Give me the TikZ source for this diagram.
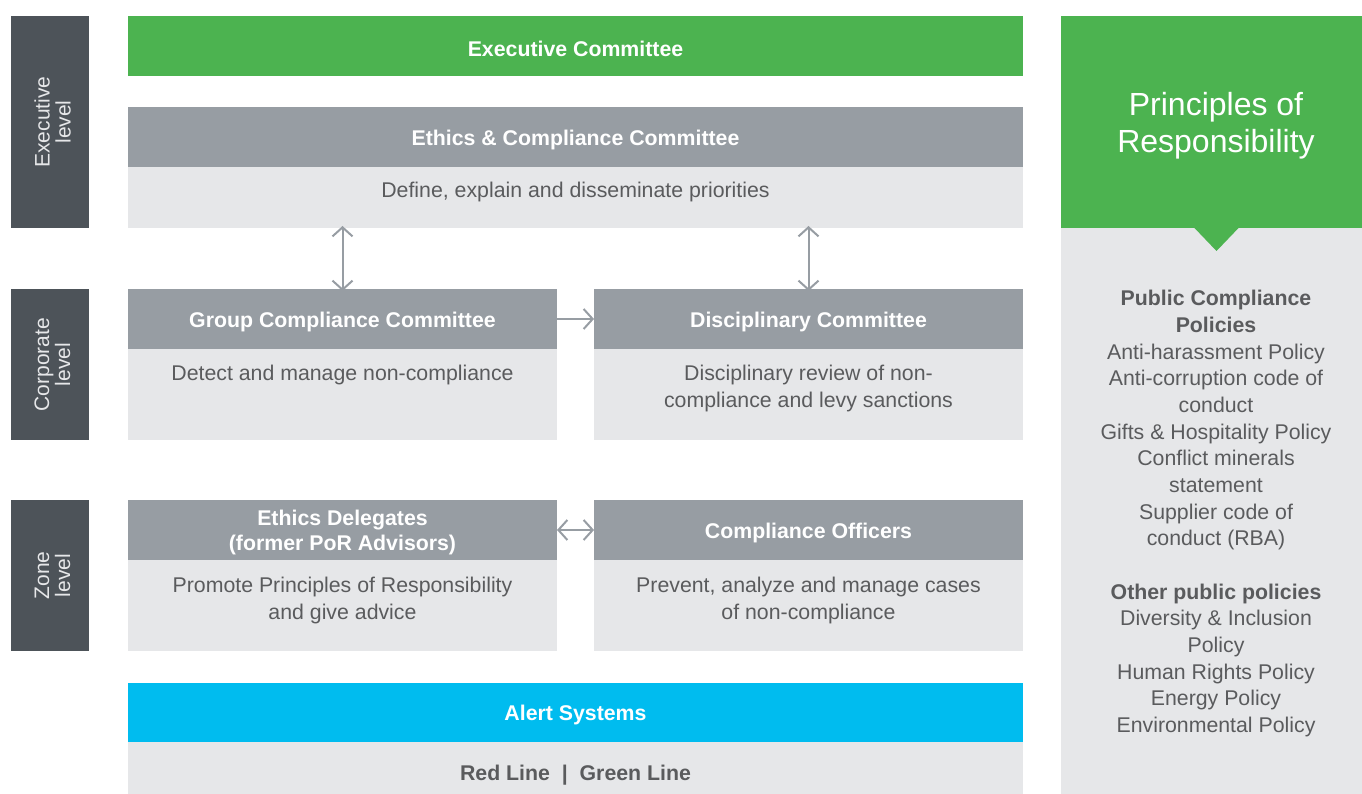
\documentclass[tikz,border=0pt]{standalone}
\usepackage{fontspec}
\setmainfont{Liberation Sans}
\usetikzlibrary{arrows.meta}
\definecolor{cgreen}{HTML}{4CB350}
\definecolor{cgray}{HTML}{979DA3}
\definecolor{clight}{HTML}{E6E7E9}
\definecolor{cdark}{HTML}{4D5359}
\definecolor{ccyan}{HTML}{00BCEF}
\definecolor{ctext}{HTML}{5A5B5D}
\tikzset{
  box/.style={inner sep=0pt, outer sep=0pt, draw=none, align=center},
  hdr/.style={box, fill=cgray},
  htxt/.style={box, text=white, yshift=-2.5pt, font=\fontsize{21.3}{25}\selectfont\bfseries},
  bodybox/.style={box, fill=clight, text=ctext, font=\fontsize{21.3}{27}\selectfont},
  lvl/.style={box, fill=cdark},
  lvltxt/.style={align=center, rotate=90, text=clight, font=\fontsize{21}{21}\selectfont, inner sep=0pt},
  arr/.style={draw=cgray, line width=2pt, {Straight Barb[length=9pt,width=20pt,line width=2pt]}-{Straight Barb[length=9pt,width=20pt,line width=2pt]}},
  arrone/.style={draw=cgray, line width=2pt, -{Straight Barb[length=9pt,width=20pt,line width=2pt]}},
  ptxt/.style={align=center, text=ctext, inner sep=0pt, font=\fontsize{21.3}{26.7}\selectfont},
}
\begin{document}
\begin{tikzpicture}[x=1pt,y=-1pt]
\useasboundingbox (0,0) rectangle (1362,794);
% level bars
\node[lvl, minimum width=78, minimum height=212] (l1) at (50,122) {};
\node[lvltxt] (l1t) at ([xshift=2.5pt]l1.center) {Executive\\level};
\node[lvl, minimum width=78, minimum height=151] (l2) at (50,364.5) {};
\node[lvltxt] (l2t) at ([xshift=2.5pt]l2.center) {Corporate\\level};
\node[lvl, minimum width=78, minimum height=151] (l3) at (50,575.5) {};
\node[lvltxt] (l3t) at ([xshift=2.5pt]l3.center) {Zone\\level};
% executive committee
\node[hdr, fill=cgreen, minimum width=895, minimum height=60] (exc) at (575.5,46) {};
\node[htxt] (exct) at (exc.center) {Executive Committee};
% ethics & compliance
\node[hdr, minimum width=895, minimum height=60] (ech) at (575.5,137) {};
\node[htxt] (echt) at (ech.center) {Ethics \& Compliance Committee};
\node[bodybox, minimum width=895, minimum height=61] (ecb) at (575.5,197.5) {};
\node[bodybox, fill=none] (ecbt) at (575.5,192) {Define, explain and disseminate priorities};
% group compliance
\node[hdr, minimum width=429, minimum height=60] (gch) at (342.5,319) {};
\node[htxt] (gcht) at (gch.center) {Group Compliance Committee};
\node[bodybox, minimum width=429, minimum height=91] (gcb) at (342.5,394.5) {};
\node[bodybox, fill=none, anchor=north] (gcbt) at (342.5,365) {Detect and manage non-compliance};
% disciplinary
\node[hdr, minimum width=429, minimum height=60] (dch) at (808.5,319) {};
\node[htxt] (dcht) at (dch.center) {Disciplinary Committee};
\node[bodybox, minimum width=429, minimum height=91] (dcb) at (808.5,394.5) {};
\node[bodybox, fill=none, anchor=north] (dcbt) at (808.5,365) {Disciplinary review of non-\\compliance and levy sanctions};
% ethics delegates
\node[hdr, minimum width=429, minimum height=60] (edh) at (342.5,530) {};
\node[htxt] (edht) at (edh.center) {Ethics Delegates\\(former PoR Advisors)};
\node[bodybox, minimum width=429, minimum height=91] (edb) at (342.5,605.5) {};
\node[bodybox, fill=none, anchor=north] (edbt) at (342.5,577) {Promote Principles of Responsibility\\and give advice};
% compliance officers
\node[hdr, minimum width=429, minimum height=60] (coh) at (808.5,530) {};
\node[htxt] (coht) at (coh.center) {Compliance Officers};
\node[bodybox, minimum width=429, minimum height=91] (cob) at (808.5,605.5) {};
\node[bodybox, fill=none, anchor=north] (cobt) at (808.5,577) {Prevent, analyze and manage cases\\of non-compliance};
% alert systems
\node[hdr, fill=ccyan, minimum width=895, minimum height=59] (alh) at (575.5,712.5) {};
\node[htxt] (alht) at (alh.center) {Alert Systems};
\node[bodybox, minimum width=895, minimum height=52] (alb) at (575.5,768) {};
\node[box, text=ctext, font=\fontsize{21.3}{25}\selectfont\bfseries] (albt) at (575.5,775) {Red Line~~|~~Green Line};
% arrows
\coordinate (a1s) at ([yshift=2pt]ecb.south -| gch.north);
\coordinate (a1e) at ([yshift=-2pt]gch.north);
\draw[arr] (a1s) -- (a1e);
\coordinate (a2s) at ([yshift=2pt]ecb.south -| dch.north);
\coordinate (a2e) at ([yshift=-2pt]dch.north);
\draw[arr] (a2s) -- (a2e);
\draw[arrone] (gch.east) -- (dch.west);
\draw[arr] (edh.east) -- (coh.west);
% right panel
\node[box, fill=cgreen, minimum width=301, minimum height=212] (prh) at (1211.5,122) {};
\node[box, text=white, font=\fontsize{32}{37}\selectfont] (prt) at (1216,126) {Principles of\\Responsibility};
\node[box, fill=clight, minimum width=301, minimum height=566] (prb) at (1211.5,511) {};
\fill[cgreen] (1193.5,227) -- (1239.5,227) -- (1216.5,251) -- cycle;
\node[ptxt, anchor=north] (pol) at (1216,290) {\textbf{Public Compliance}\\\textbf{Policies}\\Anti-harassment Policy\\Anti-corruption code of\\conduct\\Gifts \& Hospitality Policy\\Conflict minerals\\statement\\Supplier code of\\conduct (RBA)\\[26.5pt]\textbf{Other public policies}\\Diversity \& Inclusion\\Policy\\Human Rights Policy\\Energy Policy\\Environmental Policy};
\end{tikzpicture}
\end{document}
